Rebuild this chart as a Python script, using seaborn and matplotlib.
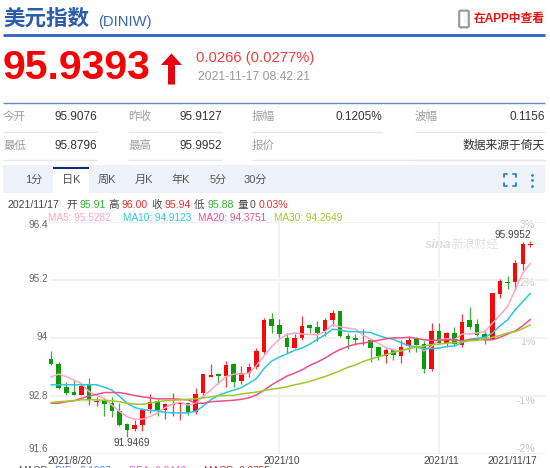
#!/usr/bin/env python3
"""Recreate the DINIW daily K-line quote panel."""
import matplotlib
matplotlib.use("Agg")
import matplotlib.pyplot as plt
from matplotlib.patches import FancyBboxPatch, Polygon, Rectangle
import numpy as np
import pandas as pd
import seaborn as sns

opens = [93.57, 93.46, 92.98, 92.88, 92.81, 93.04, 92.68, 92.71, 92.65, 92.49, 92.22, 92.12, 92.19, 92.52, 92.70, 92.51,
         92.61, 92.63, 92.66, 92.47, 92.87, 93.20, 93.25, 93.21, 93.45, 93.10, 93.27, 93.40, 93.70, 94.38, 94.26, 94.00,
         93.80, 93.99, 94.26, 94.22, 94.14, 94.36, 94.55, 94.03, 94.00, 93.95, 93.96, 93.81, 93.63, 93.75, 93.63, 93.83,
         93.98, 93.87, 93.35, 94.14, 93.89, 94.11, 93.85, 94.37, 94.29, 94.08, 93.98, 94.91, 95.15, 95.15, 95.53, 95.91]
highs = [93.73, 93.51, 93.08, 93.12, 93.06, 93.18, 92.77, 92.74, 92.78, 92.66, 92.25, 92.30, 92.55, 92.85, 92.73, 92.66,
         92.87, 92.67, 92.68, 92.96, 93.25, 93.45, 93.28, 93.52, 93.47, 93.42, 93.49, 93.80, 94.42, 94.51, 94.39, 94.11,
         94.07, 94.45, 94.29, 94.34, 94.40, 94.58, 94.56, 94.10, 94.07, 94.18, 93.98, 93.83, 93.78, 93.78, 93.96, 94.03,
         94.01, 93.94, 94.30, 94.31, 94.13, 94.22, 94.49, 94.63, 94.38, 94.16, 94.92, 95.21, 95.28, 95.61, 95.98, 96.00]
lows = [93.43, 92.94, 92.81, 92.81, 92.81, 92.61, 92.59, 92.39, 92.37, 92.18, 91.95, 92.07, 92.08, 92.45, 92.39, 92.32,
        92.39, 92.30, 92.41, 92.43, 92.75, 93.19, 93.04, 92.99, 92.98, 93.05, 93.20, 93.36, 93.67, 94.11, 93.99, 93.68,
        93.78, 93.96, 94.10, 93.94, 94.03, 94.25, 94.01, 93.76, 93.85, 93.85, 93.50, 93.54, 93.49, 93.54, 93.47, 93.70,
        93.70, 93.27, 93.32, 93.87, 93.81, 93.84, 93.82, 94.19, 94.03, 93.87, 93.97, 94.83, 95.01, 94.98, 95.40, 95.88]
closes = [93.45, 92.97, 92.87, 92.81, 93.01, 92.71, 92.70, 92.64, 92.49, 92.19, 92.10, 92.19, 92.50, 92.68, 92.51, 92.63,
          92.63, 92.65, 92.46, 92.85, 93.25, 93.23, 93.22, 93.44, 93.08, 93.27, 93.40, 93.72, 94.36, 94.25, 94.08, 93.81,
          93.99, 94.25, 94.20, 94.10, 94.36, 94.51, 94.03, 93.98, 93.96, 93.96, 93.78, 93.63, 93.75, 93.65, 93.81, 93.96,
          93.85, 93.36, 94.14, 93.90, 94.11, 93.87, 94.33, 94.22, 94.05, 93.99, 94.92, 95.18, 95.13, 95.54, 95.93, 95.94]

ma5 = [93.19, 93.25, 93.20, 93.13, 93.05, 92.89, 92.81, 92.75, 92.61, 92.48, 92.37, 92.32, 92.32, 92.37, 92.45, 92.56,
       92.63, 92.67, 92.61, 92.65, 92.79, 92.92, 93.06, 93.20, 93.25, 93.25, 93.27, 93.43, 93.63, 93.82, 93.97, 94.07,
       94.10, 94.08, 94.07, 94.06, 94.13, 94.27, 94.23, 94.20, 94.18, 94.06, 93.97, 93.89, 93.80, 93.75, 93.73, 93.78,
       93.83, 93.73, 93.82, 93.96, 93.98, 93.96, 94.08, 94.08, 94.10, 94.13, 94.30, 94.47, 94.65, 94.99, 95.34, 95.54]
ma10 = [93.03, 93.03, 93.03, 93.03, 93.03, 93.03, 93.03, 92.98, 92.92, 92.79, 92.65, 92.56, 92.52, 92.50, 92.49, 92.46,
        92.45, 92.45, 92.45, 92.48, 92.59, 92.72, 92.81, 92.87, 92.92, 92.97, 93.06, 93.16, 93.37, 93.52, 93.60, 93.67,
        93.74, 93.79, 93.87, 93.97, 94.06, 94.18, 94.16, 94.13, 94.13, 94.12, 94.11, 94.05, 94.00, 93.97, 93.90, 93.84,
        93.81, 93.78, 93.78, 93.79, 93.82, 93.83, 93.90, 93.97, 93.99, 94.01, 94.10, 94.25, 94.37, 94.58, 94.75, 94.92]
ma20 = [92.65, 92.65, 92.68, 92.70, 92.75, 92.80, 92.83, 92.87, 92.87, 92.87, 92.84, 92.81, 92.78, 92.76, 92.74, 92.74,
        92.74, 92.73, 92.72, 92.65, 92.65, 92.68, 92.69, 92.70, 92.71, 92.73, 92.76, 92.82, 92.92, 93.03, 93.12, 93.21,
        93.27, 93.34, 93.43, 93.50, 93.58, 93.68, 93.76, 93.82, 93.87, 93.89, 93.92, 93.95, 93.98, 94.00, 94.00, 94.01,
        93.99, 93.96, 93.95, 93.95, 93.96, 93.96, 93.94, 93.96, 93.97, 93.96, 93.96, 94.01, 94.08, 94.14, 94.25, 94.38]
ma30 = [92.66, 92.68, 92.69, 92.70, 92.72, 92.72, 92.72, 92.71, 92.70, 92.68, 92.65, 92.63, 92.63, 92.65, 92.68, 92.70,
        92.71, 92.72, 92.73, 92.74, 92.76, 92.78, 92.80, 92.81, 92.81, 92.84, 92.86, 92.88, 92.91, 92.94, 92.96, 92.99,
        93.03, 93.06, 93.10, 93.15, 93.20, 93.26, 93.32, 93.39, 93.44, 93.51, 93.56, 93.61, 93.65, 93.70, 93.74, 93.77,
        93.81, 93.83, 93.86, 93.87, 93.89, 93.90, 93.92, 93.94, 93.95, 93.98, 94.01, 94.05, 94.10, 94.13, 94.19, 94.27]

y_ticks = [96.4, 95.2, 94.0, 92.8, 91.6]
y_labels = ["96.4", "95.2", "94", "92.8", "91.6"]
pct_labels = ["3%", "2%", "1%", "-1%", "-2%"]
month_positions = [30, 51]
tabs = ["1分", "日K", "周K", "月K", "年K", "5分", "30分"]

RED = "#f50a0a"
GREEN = "#0a9a0a"
MA_COLORS = {"MA5": "#ffa6c4", "MA10": "#2ec5e2", "MA20": "#ee4f86", "MA30": "#a2c62c"}
TEXT = "#444444"
GRAY = "#9a9a9a"

sns.set_theme(style="white")
plt.rcParams["font.family"] = ["Liberation Sans", "Noto Sans CJK SC", "DejaVu Sans"]

fig = plt.figure(figsize=(5.5, 4.68), dpi=100, facecolor="white")

# page furniture is laid out in pixels on a full-figure axes
ui = fig.add_axes([0, 0, 1, 1])
ui.set_xlim(0, 550)
ui.set_ylim(468, 0)
ui.axis("off")


def put(x, y, s, size=8.3, color=TEXT, ha="left", **kw):
    ui.text(x, y, s, fontsize=size, color=color, ha=ha, va="center", **kw)


def rule(x0, x1, y, color, lw):
    ui.plot([x0, x1], [y, y], color=color, lw=lw, solid_capstyle="butt")


# header
put(3, 19.5, "美元指数", size=15.5, color="#2a5ca8", fontweight="bold")
put(98, 22, "(DINIW)", size=10.6, color="#3a68b0")
ui.add_patch(FancyBboxPatch((460, 11.5), 8, 15, boxstyle="round,pad=0.8,rounding_size=1.5",
                            fc="white", ec="#9c9c9c", lw=1.6))
put(474, 19, "在APP中查看", size=8.5, color="#ee1111", fontweight="bold")
rule(3, 545, 35, "#2f5fc8", 2)

# price block
put(3, 68, "95.9393", size=29.5, color="#fb0000", fontweight="bold")
ui.add_patch(Polygon([(171.5, 53.5), (182, 65), (175, 65), (175, 84.5), (168, 84.5), (168, 65), (161, 65)],
                     closed=True, fc="#e60012", ec="none"))
put(196, 58, "0.0266 (0.0277%)", size=10.6, color="#f53b3b")
put(198, 77, "2021-11-17 08:42:21", size=8.7, color=GRAY)
rule(3, 545, 103, "#5f88cf", 1)

# stats table
stat_cols = [(3, 97), (128, 222), (252, 382), (415, 545)]
stat_rows = [(117, 131.5, [("今开", "95.9076"), ("昨收", "95.9127"), ("振幅", "0.1205%"), ("波幅", "0.1156")]),
             (146, 160, [("最低", "95.8796"), ("最高", "95.9952"), ("报价", ""), ("", "数据来源于倚天")])]
for y, line_y, cells in stat_rows:
    for (x0, x1), (name, val) in zip(stat_cols, cells):
        put(x0, y, name, size=8.3, color="#a0a0a0")
        put(x1, y, val, size=8.5, color="#333333", ha="right")
        rule(x0, x1, line_y, "#e6e6e6", 1)
rule(382, 545, 160, "#e6e6e6", 1)

# toolbar
ui.add_patch(Rectangle((3, 164.5), 542, 28, fc="#eef3fb", ec="none"))
ui.add_patch(Rectangle((53, 168), 36, 25, fc="white", ec="none"))
rule(53, 89, 168, "#12227a", 1.4)
for x, tab in zip([33.5, 71, 107, 144, 181, 218, 255], tabs):
    put(x, 180, tab, size=8, color="#555555", ha="center")
for sx, sy in [(1, 1), (-1, 1), (1, -1), (-1, -1)]:
    cx, cy = 509.5 - sx * 6, 180 - sy * 6
    ui.plot([cx + sx * 3, cx, cx], [cy, cy, cy + sy * 3], color="#2d7fd0", lw=1.3)
ui.scatter([532, 532, 532], [174.5, 180, 185.5], s=4, color="#2d7fd0", lw=0)

# quote legend
for x, s, c in [(7, "2021/11/17", TEXT), (66, "开", TEXT), (79, "95.91", "#2fb52f"), (108.5, "高", TEXT),
                (121.5, "96.00", "#f03030"), (151, "收", TEXT), (164.5, "95.94", "#f03030"), (194, "低", TEXT),
                (207, "95.88", "#2fb52f"), (237.7, "量", TEXT), (250, "0", TEXT), (259, "0.03%", "#f03030")]:
    put(x, 204.7, s, size=7.6, color=c)
for x, s, c in [(48, "MA5: 95.5282", MA_COLORS["MA5"]), (123, "MA10: 94.9123", MA_COLORS["MA10"]),
                (198, "MA20: 94.3751", MA_COLORS["MA20"]), (274, "MA30: 94.2649", MA_COLORS["MA30"])]:
    put(x, 218, s, size=7.2, color=c)

# chart area
W, H = 550.0, 468.0
left, right, top, bottom = 50.0, 546.0, 221.7, 454.0
ax = fig.add_axes([left / W, 1 - bottom / H, (right - left) / W, (bottom - top) / H])
ax.patch.set_alpha(0)
step = 7.61
ax.set_xlim((left - 51) / step, (right - 51) / step)
ax.set_ylim(91.6, 96.4)
ax.set_yticks(y_ticks)
ax.set_xticks(month_positions)
ax.set_xticklabels([])
ax.set_yticklabels([])
ax.tick_params(length=0)
ax.grid(True, color="#f1f1f1", lw=1.3)
ax.set_axisbelow(True)
sns.despine(ax=ax, left=True, bottom=True)

idx = np.arange(len(closes))
o, h, l, c = map(np.array, (opens, highs, lows, closes))
up = c >= o
colors = np.where(up, RED, GREEN)
ax.vlines(idx, l, h, colors=colors, lw=0.9, alpha=0.8, zorder=2, clip_on=False)
ax.bar(idx, np.abs(c - o), bottom=np.minimum(o, c), width=0.6, color=colors, lw=0, zorder=3, clip_on=False)

ma_df = pd.DataFrame({"i": idx, "MA5": ma5, "MA10": ma10, "MA20": ma20, "MA30": ma30})
ma_long = ma_df.melt(id_vars="i", var_name="ma", value_name="value")
sns.lineplot(data=ma_long, x="i", y="value", hue="ma", palette=MA_COLORS, lw=1.1, legend=False,
             errorbar=None, ax=ax, zorder=4)
ax.set_xlabel("")
ax.set_ylabel("")

# axis labels by hand, the page offsets top and bottom ones inward
for s, y in zip(y_labels, [225.5, 278.5, 337, 396, 449.5]):
    put(48, y, s, size=7.2, color="#666666", ha="right")
for s, y in zip(pct_labels, [225.5, 283, 342, 401, 449.5]):
    put(535, y, s, size=7.6, color="#c8c8c8", ha="right")
for s, x in [("2021/8/20", 70), ("2021/10", 281.7), ("2021/11", 441), ("2021/11/17", 512)]:
    put(x, 461, s, size=7.2, color=TEXT, ha="center")
put(132, 443, "91.9469", size=7.2, color=TEXT, ha="center")
put(513, 235, "95.9952", size=7.2, color=TEXT, ha="center")

# watermark
put(425, 245, "sina", size=9.5, color="#dddddd", fontweight="bold", style="italic")
put(452, 245, "新浪财经", size=8.5, color="#e2e2e2", style="italic")

# clipped MACD row at the bottom edge
for x, s, col in [(18, "MACD:", "#555555"), (55, "DIF: -0.1937", "#5a7cf0"), (129, "DEA: 0.2442", "#f060e0"),
                  (204, "MACD: 0.0755", "#c03030")]:
    put(x, 470.5, s, size=7.2, color=col)

fig.savefig("out.png", dpi=100)
